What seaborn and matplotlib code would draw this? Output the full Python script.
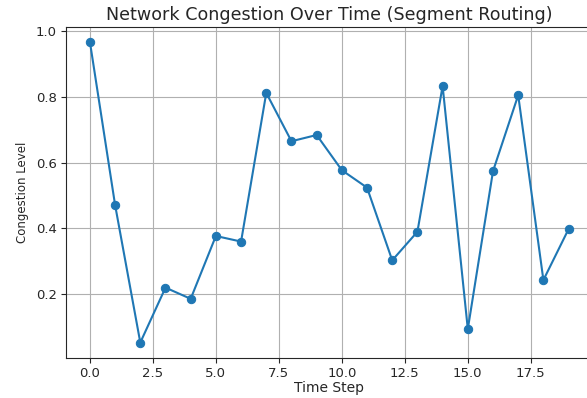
import numpy as np
import pandas as pd
import matplotlib
matplotlib.use("Agg")
import matplotlib.pyplot as plt
import seaborn as sns

# -------------------------------
# Data
# -------------------------------

time_steps = list(range(20))
congestion = [0.967, 0.471, 0.053, 0.220, 0.186, 0.377, 0.360, 0.812, 0.665, 0.684,
              0.577, 0.524, 0.303, 0.390, 0.833, 0.094, 0.574, 0.805, 0.243, 0.398]

df = pd.DataFrame({"Time Step": time_steps, "Congestion Level": congestion})

# -------------------------------
# Plot
# -------------------------------

sns.set_style("ticks")
plt.rcParams['font.family'] = ['DejaVu Sans']

fig = plt.figure(figsize=(5.87, 3.98), dpi=100)
ax = fig.add_axes([0.1124, 0.1015, 0.897, 0.831])

sns.lineplot(data=df, x="Time Step", y="Congestion Level", marker="o",
             color="#1f77b4", linewidth=1.5, markersize=6,
             markeredgecolor="#1f77b4", ax=ax)

ax.set_title("Network Congestion Over Time (Segment Routing)", fontsize=12.6, pad=5)
ax.set_xlabel("Time Step", fontsize=10, labelpad=1)
ax.set_ylabel("Congestion Level", fontsize=8.5, labelpad=5)
ax.tick_params(labelsize=9.5, pad=3)
ax.grid(True, color="#b0b0b0", linewidth=0.8)

fig.savefig("out.png", dpi=100)
